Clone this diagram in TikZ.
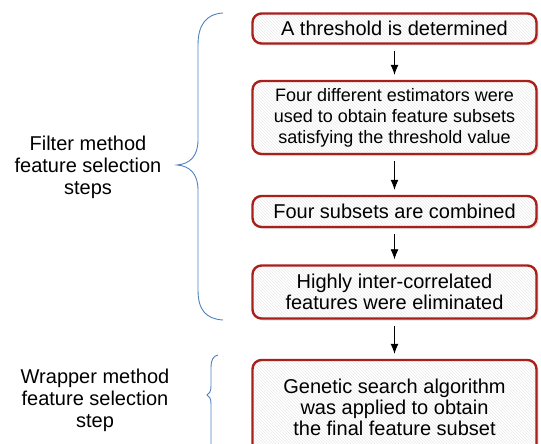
\documentclass[tikz,border=0pt]{standalone}
\usepackage{fontspec}
\setmainfont{Liberation Sans}
\usetikzlibrary{arrows.meta,shadows,patterns}

\definecolor{boxred}{RGB}{168,32,28}
\definecolor{braceblue}{RGB}{79,129,189}

\begin{document}
\begin{tikzpicture}[x=1pt,y=-1pt,
	stepbox/.style={draw=boxred, line width=2.4pt, rounded corners=9pt,
		drop shadow={shadow xshift=2pt, shadow yshift=-2pt, opacity=0.25},
		preaction={fill=white},
		preaction={pattern=north west lines, pattern color=black!8},
		minimum width=284pt, inner sep=0pt, align=center,
		font=\fontsize{20}{21}\selectfont},
	smalltext/.style={font=\fontsize{18}{21}\selectfont},
	sidetext/.style={align=center, font=\fontsize{20}{22}\selectfont},
	flowarrow/.style={-{Latex[length=10pt,width=8pt]}, line width=0.8pt, shorten >=5pt, shorten <=6pt},
	brace/.style={draw=braceblue, line width=0.9pt}]
	\useasboundingbox (0,0) rectangle (541,444);
	\clip (0,0) rectangle (541,444);

	% flow of steps
	\node[stepbox, minimum height=30pt] (thr) at (394.5,28.5) {A threshold is determined};
	\node[stepbox, smalltext, minimum height=73pt] (est) at (394.5,117.5) {Four different estimators were\\used to obtain feature subsets\\satisfying the threshold value};
	\node[stepbox, minimum height=31pt] (comb) at (394.5,211.5) {Four subsets are combined};
	\node[stepbox, minimum height=53pt] (elim) at (394.5,292) {Highly inter-correlated\\features were eliminated};
	\node[stepbox, minimum height=95pt] (gen) at (394.5,407.5) {Genetic search algorithm\\was applied to obtain\\the final feature subset};

	\draw[flowarrow] (thr) -- (est);
	\draw[flowarrow] (est) -- (comb);
	\draw[flowarrow] (comb) -- (elim);
	\draw[flowarrow] (elim) -- (gen);

	% side labels
	\node[sidetext] (filter) at (88,167) {Filter method\\feature selection\\steps};
	\node[sidetext] (wrapper) at (95,400) {Wrapper method\\feature selection\\step};

	% braces
	\draw[brace] (223,13) .. controls (206,14) and (198,25) .. (198,45) -- (198,140)
		.. controls (198,156) and (190,164) .. (177,165)
		.. controls (190,166) and (198,174) .. (198,190) -- (198,290)
		.. controls (198,310) and (206,319) .. (223,320);
	\draw[brace] (218,355) .. controls (213,356) and (211,360) .. (211,368) -- (211,386)
		.. controls (211,392) and (209,394) .. (207,395)
		.. controls (209,396) and (211,398) .. (211,404) -- (211,460);
\end{tikzpicture}
\end{document}
